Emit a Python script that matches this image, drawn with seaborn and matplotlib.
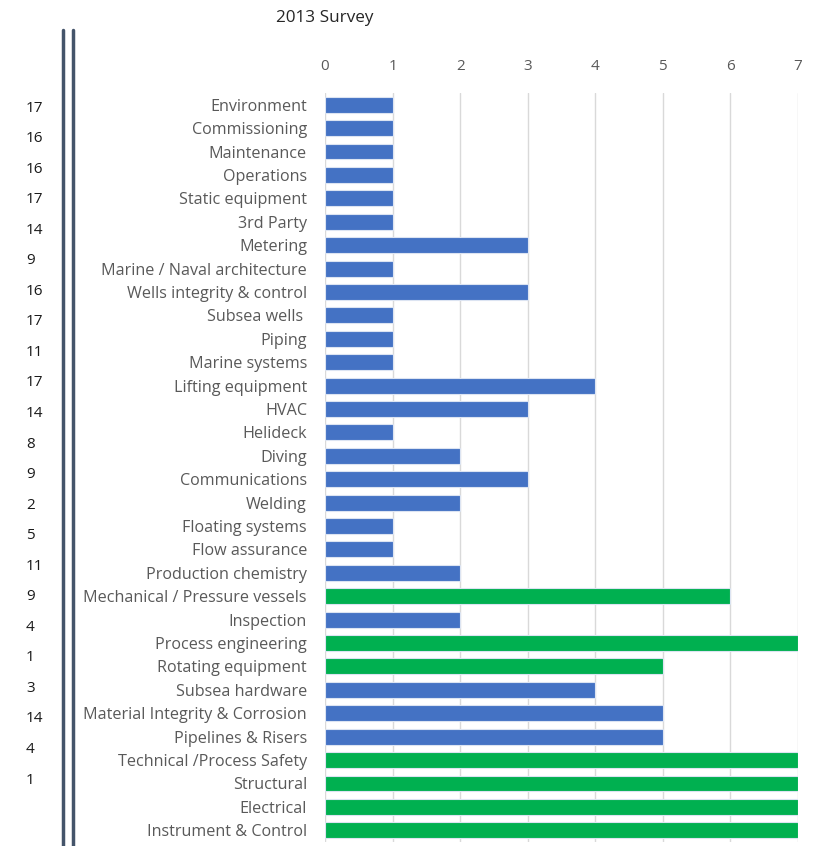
import matplotlib
matplotlib.use("Agg")
import matplotlib.pyplot as plt
import seaborn as sns
import pandas as pd
from matplotlib.lines import Line2D

categories = [
    "Environment", "Commissioning", "Maintenance", "Operations", "Static equipment",
    "3rd Party", "Metering", "Marine / Naval architecture", "Wells integrity & control",
    "Subsea wells ", "Piping", "Marine systems", "Lifting equipment", "HVAC", "Helideck",
    "Diving", "Communications", "Welding", "Floating systems", "Flow assurance",
    "Production chemistry", "Mechanical / Pressure vessels", "Inspection",
    "Process engineering", "Rotating equipment", "Subsea hardware",
    "Material Integrity & Corrosion", "Pipelines & Risers", "Technical /Process Safety",
    "Structural", "Electrical", "Instrument & Control",
]
values = [1, 1, 1, 1, 1, 1, 3, 1, 3, 1, 1, 1, 4, 3, 1, 2, 3, 2, 1, 1, 2, 6, 2, 7, 5, 4, 5, 5, 7, 7, 7, 7]
groups = ["blue"] * 21 + ["green", "blue", "green", "green", "blue", "blue", "blue",
                          "green", "green", "green", "green"]
side_numbers = [17, 16, 16, 17, 14, 9, 16, 17, 11, 17, 14, 8, 9, 2, 5, 11, 9, 4, 1, 3, 14, 4, 1]
title = "2013 Survey"
x_ticks = [0, 1, 2, 3, 4, 5, 6, 7]

palette = {"blue": "#4472C4", "green": "#00B050"}

df = pd.DataFrame({"category": categories, "value": values, "group": groups})

sns.set_theme(style="white")
plt.rcParams["font.family"] = ["Open Sans", "DejaVu Sans"]

W, H = 814, 846
fig = plt.figure(figsize=(W / 100, H / 100), dpi=100)
ax = fig.add_axes([325 / W, 1 - 842 / H, (798 - 325) / W, (842 - 93) / H])

sns.barplot(data=df, y="category", x="value", hue="group", palette=palette,
            order=categories, dodge=False, legend=False, width=0.68, saturation=1,
            edgecolor="#DCE4F2", linewidth=0.8, ax=ax)

ax.set_xlim(0, 7)
ax.set_xticks(x_ticks)
ax.xaxis.tick_top()
ax.tick_params(axis="x", length=0, pad=14, labelsize=11, colors="#595959")
ax.tick_params(axis="y", length=0, pad=13, labelsize=11.6, colors="#595959")
ax.set_xlabel("")
ax.set_ylabel("")
ax.grid(axis="x", color="#D9D9D9", linewidth=1)
ax.set_axisbelow(True)
for s in ax.spines.values():
    s.set_visible(False)

fig.text(325 / W, 1 - 18 / H, title, ha="center", va="center", fontsize=12.3, color="#262626")

y0, dy = 108, 30.55
for i, n in enumerate(side_numbers):
    fig.text(26 / W, 1 - (y0 + i * dy) / H, str(n), ha="left", va="center",
             fontsize=11, color="#1a1a1a")

for xp in (63, 73):
    fig.add_artist(Line2D([xp / W, xp / W], [1 - 30 / H, 0], transform=fig.transFigure,
                          color="#44546A", linewidth=2.5))

fig.savefig("out.png", dpi=100)
